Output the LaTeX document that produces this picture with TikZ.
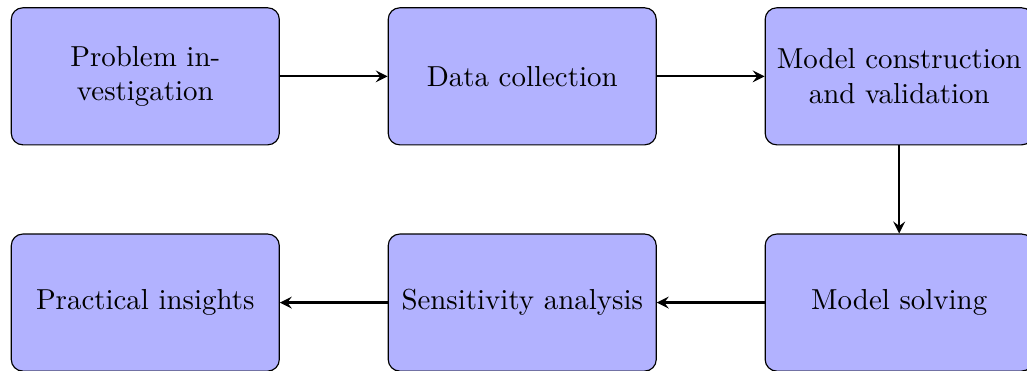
\documentclass[tikz,border=0pt]{standalone}
\usepackage{amsmath}
\usepackage{tikz}
\usetikzlibrary{shapes.geometric,calc,arrows,positioning}

\begin{document}
\begin{tikzpicture}[stage/.style={rectangle, rounded corners, draw, fill=blue!30,
    text width=3cm, inner xsep=3.67pt, align=center, minimum height=1.666cm},
    >=stealth, node distance=1.07cm and 1.31cm]

  \node[stage] (inv) {Problem investigation};
  \node[stage, right=of inv] (data) {Data collection};
  \node[stage, right=of data] (model) {Model construction and validation};
  \node[stage, below=of model] (solve) {Model solving};
  \node[stage, left=of solve] (sens) {Sensitivity analysis};
  \node[stage, left=of sens] (insight) {Practical insights};

  \draw[->, thick] (inv) -- (data);
  \draw[->, thick] (data) -- (model);
  \draw[->, thick] (model) -- (solve);
  \draw[->, thick] (solve) -- (sens);
  \draw[->, thick] (sens) -- (insight);

  % page cuts off the right column
  \pgfresetboundingbox
  \useasboundingbox ($(inv.north west)+(-3.7pt,2.5pt)$) rectangle ++(355.2pt,-128pt);
\end{tikzpicture}
\end{document}
